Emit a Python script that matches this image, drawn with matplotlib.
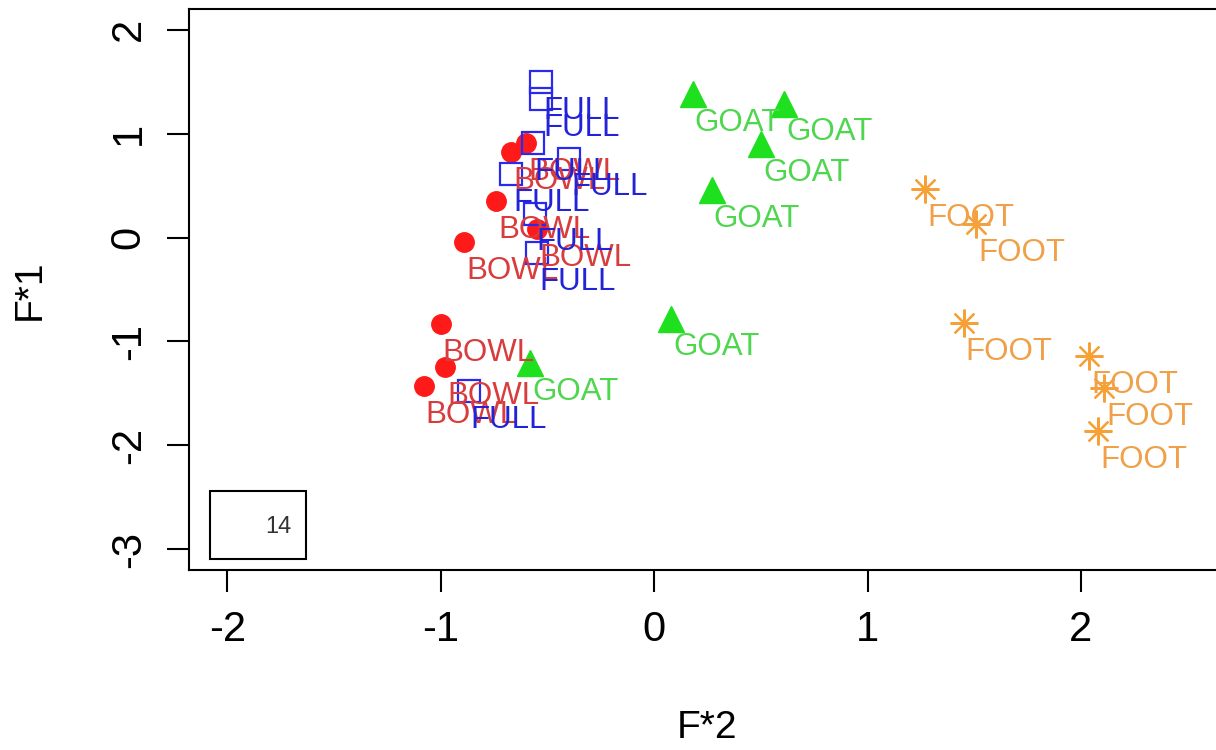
import numpy as np
import matplotlib.pyplot as plt
from matplotlib.patches import Rectangle

plt.rcParams['font.family'] = ['Liberation Sans', 'DejaVu Sans']
plt.rcParams['axes.unicode_minus'] = False

# scores on the two factors, per word group
bowl_x = [-0.60, -0.67, -0.74, -0.89, -0.55, -1.00, -0.98, -1.08]
bowl_y = [0.91, 0.82, 0.35, -0.04, 0.08, -0.83, -1.25, -1.43]

full_x = [-0.53, -0.53, -0.57, -0.40, -0.67, -0.56, -0.55, -0.87]
full_y = [1.50, 1.33, 0.91, 0.76, 0.61, 0.23, -0.15, -1.48]

goat_x = [0.18, 0.61, 0.50, 0.27, 0.08, -0.58]
goat_y = [1.38, 1.29, 0.90, 0.46, -0.78, -1.21]

foot_x = [1.27, 1.51, 1.45, 2.04, 2.11, 2.08]
foot_y = [0.47, 0.13, -0.82, -1.14, -1.45, -1.86]

groups = [
    # label, x, y, marker, marker colour, text colour, filled
    ('BOWL', bowl_x, bowl_y, 'o', '#ff1a1a', '#d83c3c', True),
    ('FULL', full_x, full_y, 's', '#2a2aee', '#2222d8', False),
    ('GOAT', goat_x, goat_y, '^', '#1fe01f', '#4fd64f', True),
    ('FOOT', foot_x, foot_y, (8, 2, 0), '#f7a035', '#f0a048', False),
]
msize = {'o': 14, 's': 15.5, '^': 19}

fig = plt.figure(figsize=(12.16, 7.5), dpi=100)
ax = fig.add_axes([189/1216, 180/750, 1037/1216, 561/750])

for name, xs, ys, mk, mcol, tcol, filled in groups:
    ms = msize.get(mk, 20) if isinstance(mk, str) else 20
    if filled:
        ax.plot(xs, ys, ls='none', marker=mk, ms=ms, color=mcol, mec=mcol)
    else:
        ax.plot(xs, ys, ls='none', marker=mk, ms=ms, mfc='none', mec=mcol, mew=1.6)
    for x, y in zip(xs, ys):
        ax.annotate(name, (x, y), xytext=(1.5, -26.5), textcoords='offset points',
                    ha='left', va='baseline', fontsize=22.5, color=tcol)

ax.set_xlim(-2.18, 2.68)
ax.set_ylim(-3.2, 2.2)
ax.set_xticks([-2, -1, 0, 1, 2])
ax.set_yticks([-3, -2, -1, 0, 1, 2])
ax.tick_params(axis='both', direction='out', length=16, width=1.5, labelsize=30, pad=13)
for lab in ax.get_yticklabels():
    lab.set_rotation(90)
    lab.set_va('center')
for sp in ax.spines.values():
    sp.set_linewidth(1.5)

# small boxed count in the lower left corner
ax.add_patch(Rectangle((0.0203, 0.0196), 0.0926, 0.121, transform=ax.transAxes,
                       fill=False, lw=1.5, ec='black'))
ax.text(0.0858, 0.0766, '14', transform=ax.transAxes, ha='center', va='center',
        fontsize=17, color='#333333')

fig.text(707/1216, 1 - 728/750, 'F*2', ha='center', va='center', fontsize=28)
fig.text(30/1216, 1 - 290/750, 'F*1', ha='center', va='center', fontsize=28, rotation=90)

fig.savefig('out.png', dpi=100)
